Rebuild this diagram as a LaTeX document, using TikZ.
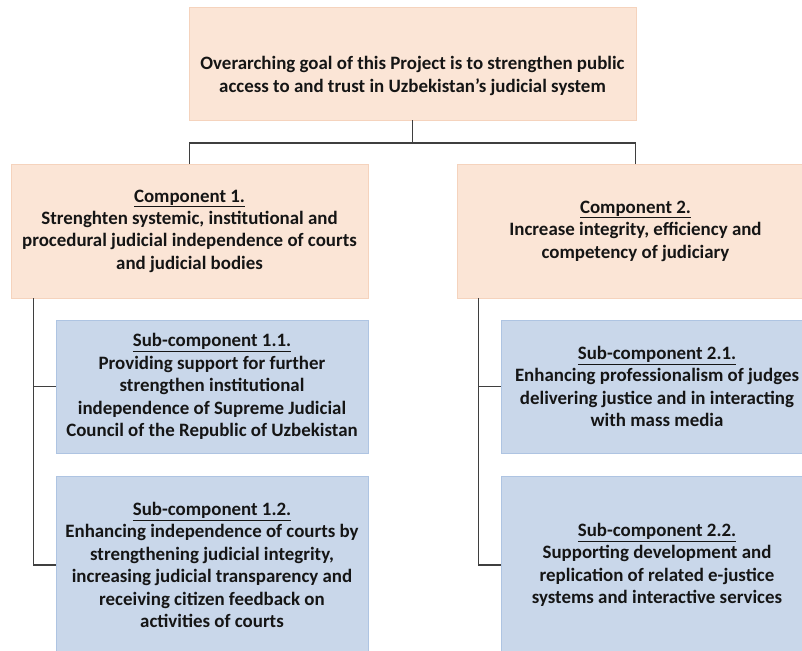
\documentclass[tikz,border=0pt]{standalone}
\usepackage{fontspec}
\setmainfont{Carlito}
\usetikzlibrary{calc}
\definecolor{peach}{HTML}{FBE5D6}
\definecolor{peachline}{HTML}{F5D3BD}
\definecolor{paleblue}{HTML}{C9D7EA}
\definecolor{blueline}{HTML}{AEC4E2}
\definecolor{linkgray}{HTML}{3F3F3F}
\definecolor{ink}{HTML}{151515}
\begin{document}
\begin{tikzpicture}[x=1pt,y=-1pt,
  box/.style={rectangle, inner sep=0pt, line width=0.9pt},
  goalbox/.style={box, fill=peach, draw=peachline},
  subbox/.style={box, fill=paleblue, draw=blueline},
  txt/.style={align=center, text=ink, inner sep=0pt,
    font=\bfseries\fontsize{18.9}{22.4}\selectfont},
  link/.style={draw=linkgray, line width=1.1pt}]
\useasboundingbox (0,0) rectangle (802,650);
\fill[white] (0,0) rectangle (802,650);

% overall goal
\node[goalbox, minimum width=447pt, minimum height=113pt] (goal) at (412.5,63.5) {};
\node[txt] (goaltext) at (412.5,76)
  {Overarching goal of this Project is to strengthen public\\
   access to and trust in Uzbekistan’s judicial system};

% components
\node[goalbox, txt, minimum width=357pt, minimum height=134pt] (c1) at (189.5,231)
  {\underline{Component 1.}\\
   Strenghten systemic, institutional and\\
   procedural judicial independence of courts\\
   and judicial bodies};
\node[goalbox, txt, minimum width=357pt, minimum height=134pt] (c2) at (635.5,231)
  {\underline{Component 2.}\\
   Increase integrity, efficiency and\\
   competency of judiciary};

% sub-components
\node[subbox, txt, minimum width=312pt, minimum height=133pt] (s11) at (212,386.5)
  {\underline{Sub-component 1.1.}\\
   Providing support for further\\
   strengthen institutional\\
   independence of Supreme Judicial\\
   Council of the Republic of Uzbekistan};
\node[subbox, txt, minimum width=312pt, minimum height=178pt] (s12) at (212,565)
  {\underline{Sub-component 1.2.}\\
   Enhancing independence of courts by\\
   strengthening judicial integrity,\\
   increasing judicial transparency and\\
   receiving citizen feedback on\\
   activities of courts};
\node[subbox, txt, minimum width=312pt, minimum height=133pt] (s21) at (657,386.5)
  {\underline{Sub-component 2.1.}\\
   Enhancing professionalism of judges\\
   delivering justice and in interacting\\
   with mass media};
\node[subbox, txt, minimum width=312pt, minimum height=178pt] (s22) at (657,565)
  {\underline{Sub-component 2.2.}\\
   Supporting development and\\
   replication of related e-justice\\
   systems and interactive services};

% connectors
\coordinate (bus) at (412.5,143);
\draw[link] (goal.south) -- (bus);
\draw[link] (c1.north) |- (bus) -| (c2.north);
\coordinate (t1) at ($(c1.south west)+(23,0)$);
\coordinate (t2) at ($(c2.south west)+(22,0)$);
\draw[link] (t1) |- (s11.west);
\draw[link] (t1) |- (s12.west);
\draw[link] (t2) |- (s21.west);
\draw[link] (t2) |- (s22.west);
\end{tikzpicture}
\end{document}
